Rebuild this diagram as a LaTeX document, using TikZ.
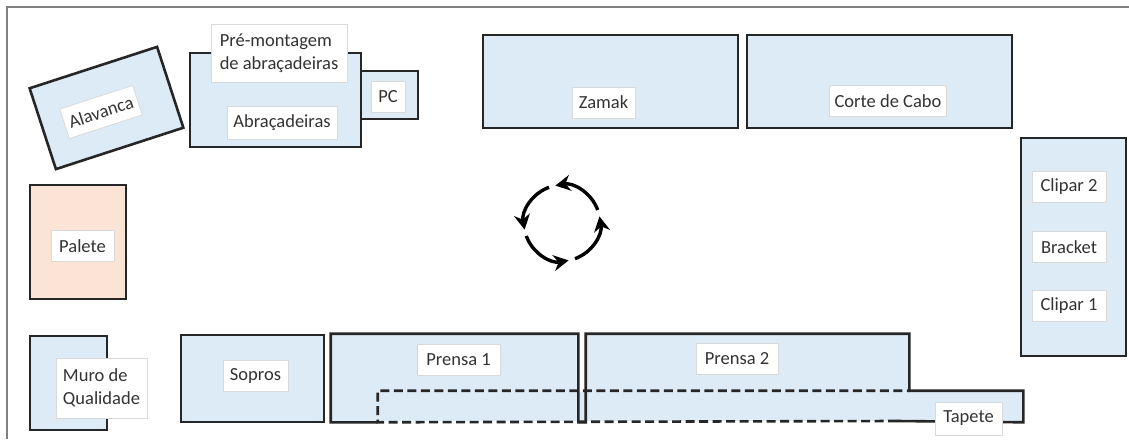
\documentclass[tikz,border=0pt]{standalone}
\usepackage{fontspec}
\setmainfont{Carlito}
\usetikzlibrary{arrows.meta}
\definecolor{zoneblue}{HTML}{DDEBF7}
\definecolor{zonepink}{HTML}{FBE3D6}
\definecolor{zoneline}{HTML}{262626}

\begin{document}
\begin{tikzpicture}[x=1pt, y=-1pt, font=\fontsize{18.5}{23}\selectfont,
  station/.style={draw=zoneline, fill=zoneblue, line width=2.6pt, inner sep=0pt},
  edge/.style={draw=zoneline, line width=2.6pt},
  tag/.style={draw=black!15, fill=white, line width=.8pt, inner xsep=5pt, inner ysep=0pt, minimum height=31pt, text=black!80},
  turn/.style={line width=3.4pt, -{Stealth[length=15pt, width=16pt]}}]
	\useasboundingbox (0,0) rectangle (1129,439);
	\draw[color=gray, line width=1.3pt] (1129,7) -- (7,7) -- (7,439);
	\node[station, minimum width=134pt, minimum height=85pt, rotate=18] (alavanca) at (106.5,108) {};
	\node[station, minimum width=171pt, minimum height=94pt] (abracadeiras) at (275.5,100) {};
	\node[station, minimum width=57pt, minimum height=48pt] (pc) at (389.5,95) {};
	\node[station, minimum width=255pt, minimum height=93pt] (zamak) at (610.5,81.5) {};
	\node[station, minimum width=265pt, minimum height=93pt] (corte) at (879.5,81.5) {};
	\node[station, minimum width=105pt, minimum height=218pt] (clipar) at (1073.5,247) {};
	\node[station, fill=zonepink, minimum width=96pt, minimum height=114pt] (palete) at (78,242) {};
	\node[station, minimum width=77pt, minimum height=94pt] (muro) at (68.5,383) {};
	\node[station, minimum width=143pt, minimum height=87pt] (sopros) at (252.5,378.5) {};
	\node[station, draw=none, minimum width=245pt, minimum height=86pt] (prensa1) at (454.5,378) {};
	\node[station, draw=none, minimum width=321pt, minimum height=86pt] (prensa2) at (747.5,378) {};
	\node[station, draw=none, minimum width=643pt, minimum height=29pt] (tapete) at (700.5,406.5) {};
	\coordinate (tapete end) at (897,421);
	\draw[edge, line join=miter] (tapete.south west) -| (prensa1.north west) -| (prensa1.south east) -- (prensa2.south west)
	  |- (prensa2.north east) -- (prensa2.east |- tapete.north) -| (tapete.south east) -- (tapete end);
	\draw[edge, dash pattern=on 9pt off 4.5pt] (tapete end) -- (tapete.south west) -- (tapete.north west) -- (prensa2.east |- tapete.north);
	\node[tag, rotate=18] (alavanca label) at (101,112) {Alavanca};
	\node[tag, align=left, minimum width=136pt, minimum height=58pt] (premontagem label) at (279,53) {Pré-montagem\\de abraçadeiras};
	\node[tag, minimum width=110pt, minimum height=33pt] (abracadeiras label) at (282,122.5) {Abraçadeiras};
	\node[tag, minimum width=34pt] (pc label) at (388,97) {PC};
	\node[tag, minimum width=63pt] (zamak label) at (603.5,102.5) {Zamak};
	\node[tag, minimum width=117pt] (corte label) at (888,101) {Corte de Cabo};
	\node[tag, minimum width=74pt] (clipar2 label) at (1069,187) {Clipar 2};
	\node[tag, minimum width=74pt] (bracket label) at (1069,247) {Bracket};
	\node[tag, minimum width=74pt] (clipar1 label) at (1069,306) {Clipar 1};
	\node[tag, minimum width=63pt] (palete label) at (82.5,246) {Palete};
	\node[tag, align=left, minimum width=91pt, minimum height=60pt] (muro label) at (101.5,388) {Muro de\\Qualidade};
	\node[tag, minimum width=65pt] (sopros label) at (255.5,376) {Sopros};
	\node[tag, minimum width=83pt] (prensa1 label) at (458.5,360) {Prensa 1};
	\node[tag, minimum width=82pt] (prensa2 label) at (737,359) {Prensa 2};
	\node[tag, minimum width=67pt, minimum height=33pt] (tapete label) at (968.5,418.5) {Tapete};
	\coordinate (turn centre) at (562,223);
	\foreach \a in {0,90,180,270}
	  \draw[turn] ([shift={(-20-\a:38)}]turn centre) arc[start angle=-20-\a, end angle=-100-\a, radius=38];
\end{tikzpicture}
\end{document}
